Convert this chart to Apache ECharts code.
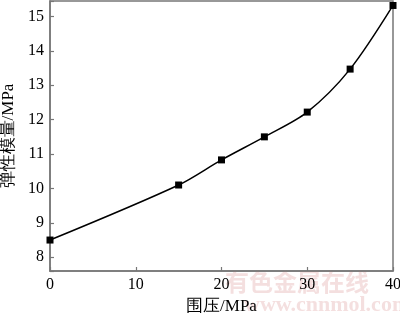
<!DOCTYPE html>
<html>
<head>
<meta charset="utf-8">
<script src="https://cdn.jsdelivr.net/npm/echarts@6/dist/echarts.min.js"></script>
<style>html,body{margin:0;padding:0;background:#fff;}#c{width:400px;height:318px;}</style>
</head>
<body>
<div id="c"></div>
<script>
var confiningPressure = [0, 15, 20, 25, 30, 35, 40];
var elasticModulus = [8.5, 10.1, 10.83, 11.5, 12.22, 13.47, 15.32];
var xTicks = [0, 10, 20, 30, 40];
var yTicks = [8, 9, 10, 11, 12, 13, 14, 15];

var points = confiningPressure.map(function (x, i) { return [x, elasticModulus[i]]; });
var font = 'Liberation Serif';
var chart = echarts.init(document.getElementById('c'), null, {renderer: 'canvas'});
chart.setOption({
  animation: false,
  backgroundColor: '#fff',
  grid: {left: 50, right: 7, top: 1, bottom: 47, containLabel: false, outerBoundsMode: 'none',
         show: true, borderColor: '#777', borderWidth: 1.5},
  xAxis: {
    type: 'value', min: 0, max: 40, interval: 10,
    name: '围压/MPa', nameLocation: 'middle', nameGap: 22,
    nameTextStyle: {fontFamily: font, fontSize: 17, color: '#000'},
    axisLine: {show: true, lineStyle: {color: '#777', width: 1.5}},
    axisTick: {show: true, inside: true, length: 4, lineStyle: {color: '#777', width: 1.2}},
    axisLabel: {fontFamily: font, fontSize: 16, color: '#000', margin: 6,
      formatter: function (v) { return xTicks.indexOf(v) >= 0 ? String(v) : ''; }},
    splitLine: {show: false}
  },
  yAxis: {
    type: 'value', min: 7.6, max: 15.45, splitNumber: 8,
    name: '弹性模量/MPa', nameLocation: 'middle', nameGap: 31, nameRotate: 90,
    nameTextStyle: {fontFamily: font, fontSize: 17, color: '#000'},
    axisLine: {show: true, lineStyle: {color: '#777', width: 1.5}},
    axisTick: {show: true, inside: true, length: 4, lineStyle: {color: '#777', width: 1.2}},
    axisLabel: {fontFamily: font, fontSize: 16, color: '#000', margin: 6,
      formatter: function (v) { return yTicks.indexOf(Math.round(v * 100) / 100) >= 0 ? String(Math.round(v)) : ''; }},
    splitLine: {show: false}
  },
  graphic: [
    {type: 'text', left: 225, top: 270, z: 0, silent: true,
     style: {text: '有色金属在线', font: 'bold 24px "Noto Sans CJK SC"', fill: 'rgba(220,150,150,0.3)'}},
    {type: 'text', left: 244, top: 294, z: 0, silent: true,
     style: {text: 'www.cnnmol.com', font: 'bold 22px "Liberation Serif"', fill: 'rgba(220,150,150,0.3)'}}
  ],
  series: [{
    type: 'line', data: points, smooth: 0.3,
    symbol: 'rect', symbolSize: 7,
    lineStyle: {color: '#000', width: 1.5},
    itemStyle: {color: '#000'},
    z: 5
  }]
});
</script>
</body>
</html>
